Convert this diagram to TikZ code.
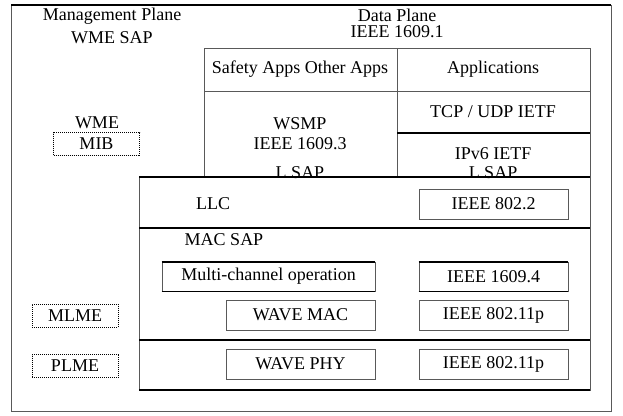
\documentclass[tikz,border=0pt]{standalone}
\usepackage{fontspec}
\setmainfont{Liberation Serif}
\usetikzlibrary{positioning}
\begin{document}
\begin{tikzpicture}[x=1pt, y=-1pt, font=\fontsize{18}{20}\selectfont,
		thin line/.style={draw=black!65, line width=0.8pt},
		heavy line/.style={draw=black, line width=1.8pt},
		lbl/.style={inner sep=0pt},
		layerbox/.style={thin line, inner sep=0pt, minimum width=149pt, minimum height=30pt},
		mibbox/.style={draw=black, densely dotted, line width=1pt, inner sep=0pt, minimum width=86pt, minimum height=23pt}]
			\useasboundingbox (0,0) rectangle (623,415);
			% frame
			\draw[thin line] (11,5) rectangle (611,411);
			\draw[heavy line] (11,5) -- (611,5);
			% planes
			\node[lbl] (mgmt) at (112,16) {Management Plane};
			\node[lbl] (wmesap) at (112,38) {WME SAP};
			\node[lbl] (data) at (397,15) {Data Plane};
			\node[lbl] (p16091) at (397,32) {IEEE 1609.1};
			% upper stack
			\draw[thin line] (204,177) -- (204,48) -- (590,48) -- (590,177);
			\draw[thin line] (204,91) -- (590,91);
			\draw[thin line] (397,48) -- (397,177);
			\draw[draw=black, line width=1.3pt] (397,133) -- (590,133);
			\node[lbl] (apps) at (300,69) {Safety Apps Other Apps};
			\node[lbl] (applications) at (493,69) {Applications};
			\node[lbl] (wsmp) at (300,124) {WSMP};
			\node[lbl] (p16093) at (300,144) {IEEE 1609.3};
			\node[lbl] (lsapa) at (300,173) {L SAP};
			\node[lbl] (tcp) at (493,112) {TCP / UDP IETF};
			\node[lbl] (ipv6) at (493,154) {IPv6 IETF};
			\node[lbl] (lsapb) at (493,173) {L SAP};
			% management entities
			\node[lbl] (wme) at (97,123) {WME};
			\node[mibbox] (mib) at (96.5,144) {MIB};
			\node[mibbox] (mlme) at (75,315.5) {MLME};
			\node[mibbox] (plme) at (75,366) {PLME};
			% lower stack
			\draw[thin line] (139,177) rectangle (590,390);
			\draw[heavy line] (139,177) -- (590,177);
			\draw[draw=black, line width=1.4pt] (139,228) -- (590,228);
			\draw[heavy line] (139,340) -- (590,340);
			\draw[heavy line] (139,390) -- (590,390);
			\node[lbl] (llc) at (213,204) {LLC};
			\node[layerbox] (p8022) at (493.5,204) {IEEE 802.2};
			\node[lbl] (macsap) at (224,240) {MAC SAP};
			\node[layerbox, minimum width=213pt, minimum height=29pt] (multich) at (268.5,276.5) {Multi-channel operation};
			\node[layerbox, minimum height=29pt] (p16094) at (493.5,276.5) {IEEE 1609.4};
			\draw[heavy line] (multich.north west) -- (multich.north east);
			\draw[heavy line] (multich.south west) -- (multich.south east);
			\draw[heavy line] (p16094.north west) -- (p16094.north east);
			\draw[heavy line] (p16094.south west) -- (p16094.south east);
			\node[layerbox] (wavemac) at (300.5,315) {WAVE MAC};
			\node[layerbox] (p80211mac) at (493.5,315) {IEEE 802.11p};
			\node[layerbox] (wavephy) at (300.5,364) {WAVE PHY};
			\node[layerbox] (p80211phy) at (493.5,364) {IEEE 802.11p};
		\end{tikzpicture}
\end{document}
